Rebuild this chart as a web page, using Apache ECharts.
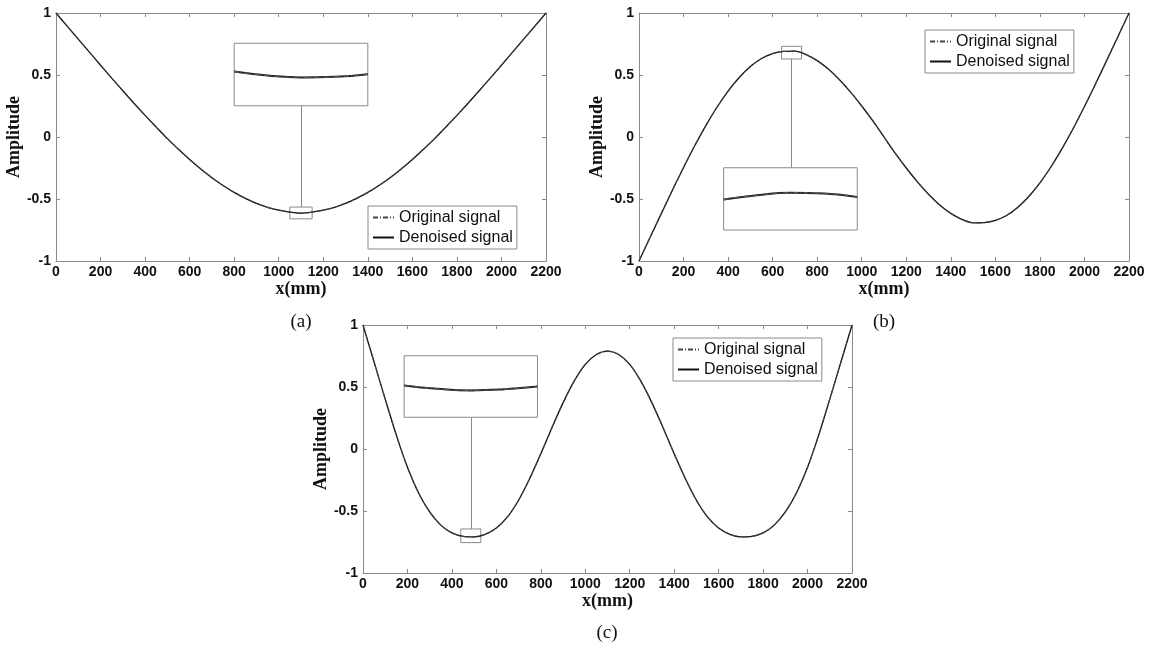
<!DOCTYPE html>
<html><head><meta charset="utf-8">
<script src="https://cdn.jsdelivr.net/npm/echarts@6/dist/echarts.min.js"></script>
<style>html,body{margin:0;padding:0;background:#fff}#c{width:1149px;height:649px}</style>
</head><body><div id="c"></div>
<script>
// ---------- data ----------
const xMm = [0,50,100,150,200,250,300,350,400,450,500,550,600,650,700,750,800,850,900,950,1000,1050,1100,
  1150,1200,1250,1300,1350,1400,1450,1500,1550,1600,1650,1700,1750,1800,1850,1900,1950,2000,2050,2100,2150,2200];
const signalA = [1.000,0.894,0.789,0.684,0.579,0.475,0.373,0.272,0.174,0.080,-0.013,-0.099,-0.181,-0.258,-0.328,-0.391,-0.447,-0.495,-0.535,-0.567,-0.590,-0.606,-0.615,
  -0.606,-0.590,-0.567,-0.535,-0.495,-0.447,-0.391,-0.328,-0.258,-0.181,-0.099,-0.013,0.080,0.174,0.272,0.373,0.475,0.579,0.684,0.789,0.894,1.000];
const signalB = [-1.000,-0.809,-0.618,-0.429,-0.246,-0.071,0.092,0.240,0.370,0.480,0.568,0.633,0.673,0.690,0.692,0.665,0.616,0.548,0.462,0.362,0.250,0.130,0.000,
  -0.130,-0.250,-0.362,-0.462,-0.548,-0.616,-0.665,-0.692,-0.690,-0.673,-0.633,-0.568,-0.480,-0.370,-0.240,-0.092,0.071,0.246,0.429,0.618,0.809,1.000];
const signalC = [1.000,0.700,0.402,0.112,-0.148,-0.355,-0.508,-0.614,-0.677,-0.704,-0.708,-0.688,-0.638,-0.548,-0.413,-0.238,-0.038,0.172,0.372,0.547,0.682,0.762,0.790,
  0.762,0.682,0.547,0.372,0.172,-0.038,-0.238,-0.413,-0.548,-0.638,-0.688,-0.708,-0.704,-0.677,-0.614,-0.508,-0.355,-0.148,0.112,0.402,0.700,1.000];
// zoomed segments shown in the insets
const zoomXA = [1050,1075,1100,1125,1150];
const zoomYA = [-0.608,-0.614,-0.617,-0.616,-0.612];
const zoomXB = [640,662.5,685,707.5,730];
const zoomYB = [0.679,0.686,0.690,0.689,0.683];
const zoomXC = [440,462.5,485,507.5,530];
const zoomYC = [-0.698,-0.704,-0.707,-0.705,-0.700];
const seriesNames = ['Original signal','Denoised signal'];
const captions = ['(a)','(b)','(c)'];
const xAxisName = 'x(mm)';
const yAxisName = 'Amplitude';

// ---------- layout ----------
const panels = [
  {grid:{left:56,top:13,width:490,height:248}, sig:signalA, zx:zoomXA, zy:zoomYA,
   zoomY:[-0.66,-0.565], inset:[800,1400,0.252,0.756], legend:{left:368,top:206}, cap:[301,322]},
  {grid:{left:639,top:13,width:490,height:248}, sig:signalB, zx:zoomXB, zy:zoomYB,
   zoomY:[0.629,0.731], inset:[380,980,-0.75,-0.248], legend:{left:925,top:30}, cap:[884,322]},
  {grid:{left:363,top:325,width:489,height:248}, sig:signalC, zx:zoomXC, zy:zoomYC,
   zoomY:[-0.755,-0.645], inset:[185,785,0.256,0.752], legend:{left:673,top:338}, cap:[607,633]}
];

const AX = '#8a8a8a';
const sans = 'Liberation Sans, Arial, sans-serif';
const serif = 'Liberation Serif, Times New Roman, serif';
const plain = v => String(v);

const grids=[], xAxes=[], yAxes=[], series=[], legends=[], graphics=[];
panels.forEach((p,i)=>{
  grids.push(Object.assign({show:true,borderWidth:0,backgroundColor:'#fff'},p.grid));
  const common = {type:'value', gridIndex:i, splitLine:{show:false},
    axisLine:{show:true,onZero:false,lineStyle:{color:AX,width:1}},
    axisTick:{show:true,inside:true,length:4,lineStyle:{color:AX}}};
  xAxes.push(Object.assign({}, common, {position:'bottom', min:0, max:2200, interval:200,
    name:xAxisName, nameLocation:'middle', nameGap:10,
    nameTextStyle:{fontFamily:serif,fontWeight:'bold',fontSize:18,color:'#111'},
    axisLabel:{fontFamily:sans,fontWeight:'bold',fontSize:14,color:'#111',margin:4,formatter:plain}}));
  xAxes.push(Object.assign({}, common, {position:'top', min:0, max:2200, interval:200, axisLabel:{show:false}}));
  yAxes.push(Object.assign({}, common, {position:'left', min:-1, max:1, interval:0.5,
    name:yAxisName, nameLocation:'middle', nameGap:27, nameRotate:90,
    nameTextStyle:{fontFamily:serif,fontWeight:'bold',fontSize:18,color:'#111'},
    axisLabel:{fontFamily:sans,fontWeight:'bold',fontSize:14,color:'#111',margin:5,formatter:plain}}));
  yAxes.push(Object.assign({}, common, {position:'right', min:-1, max:1, interval:0.5, axisLabel:{show:false}}));

  const pts = xMm.map((x,k)=>[x,p.sig[k]]);
  const zx0 = p.zx[0], zx1 = p.zx[p.zx.length-1];
  const xc = (zx0+zx1)/2;
  const insetAbove = p.inset[2] > p.zoomY[1];
  const lineFrom = insetAbove ? p.zoomY[1] : p.zoomY[0];
  const lineTo = insetAbove ? p.inset[2] : p.inset[3];
  series.push({name:seriesNames[1], type:'line', xAxisIndex:2*i, yAxisIndex:2*i, data:pts,
    smooth:0.3, symbol:'none', itemStyle:{color:'#111'}, lineStyle:{color:'#111',width:1.3,type:'solid'}, z:3,
    markArea:{silent:true, itemStyle:{color:'rgba(0,0,0,0)',borderColor:AX,borderWidth:1},
      data:[[{coord:[zx0,p.zoomY[0]]},{coord:[zx1,p.zoomY[1]]}]]},
    markLine:{silent:true, symbol:['none','none'], label:{show:false},
      lineStyle:{color:AX,type:'solid',width:1},
      data:[[{coord:[xc,lineFrom]},{coord:[xc,lineTo]}]]}});
  series.push({name:seriesNames[0], type:'line', xAxisIndex:2*i, yAxisIndex:2*i, data:pts,
    smooth:0.3, symbol:'none', itemStyle:{color:'#444'}, lineStyle:{color:'#444',width:1.2,type:[5,2,1,2]}, z:4});

  legends.push({left:p.legend.left, top:p.legend.top, orient:'vertical', data:seriesNames,
    selectedMode:false, borderColor:AX, borderWidth:1, backgroundColor:'#fff', borderRadius:0,
    padding:[3,4,3,4], itemGap:3, itemWidth:21, itemHeight:10,
    itemStyle:{opacity:0},
    textStyle:{fontFamily:sans,fontSize:16,color:'#111',lineHeight:17}});
  graphics.push({type:'text', x:p.cap[0], y:p.cap[1],
    style:{text:captions[i], font:'19px '+serif, fill:'#111', textAlign:'center', textVerticalAlign:'middle'}});
});

const chart = echarts.init(document.getElementById('c'), null, {renderer:'canvas'});
chart.setOption({animation:false, backgroundColor:'#fff', grid:grids, xAxis:xAxes, yAxis:yAxes,
  series:series, legend:legends, graphic:graphics});

// place inset grids from the main axes' scales
panels.forEach((p,i)=>{
  const a = chart.convertToPixel({xAxisIndex:2*i,yAxisIndex:2*i},[p.inset[0],p.inset[3]]);
  const b = chart.convertToPixel({xAxisIndex:2*i,yAxisIndex:2*i},[p.inset[1],p.inset[2]]);
  grids.push({show:true, left:a[0], top:a[1], width:b[0]-a[0], height:b[1]-a[1],
    borderColor:AX, borderWidth:1, backgroundColor:'#fff', z:5});
  const gi = 3+i;
  xAxes.push({type:'value', gridIndex:gi, show:false, min:p.zx[0], max:p.zx[p.zx.length-1]});
  yAxes.push({type:'value', gridIndex:gi, show:false, min:p.zoomY[0], max:p.zoomY[1]});
  const zp = p.zx.map((x,k)=>[x,p.zy[k]]);
  series.push({name:seriesNames[1], type:'line', xAxisIndex:6+i, yAxisIndex:6+i, data:zp,
    smooth:true, symbol:'none', itemStyle:{color:'#222'}, lineStyle:{color:'#222',width:2}, z:6});
  series.push({name:seriesNames[0], type:'line', xAxisIndex:6+i, yAxisIndex:6+i, data:zp,
    smooth:true, symbol:'none', itemStyle:{color:'#555'}, lineStyle:{color:'#555',width:1.4,type:[5,2,1,2]}, z:7});
});
chart.setOption({grid:grids, xAxis:xAxes, yAxis:yAxes, series:series});
</script>
</body></html>
